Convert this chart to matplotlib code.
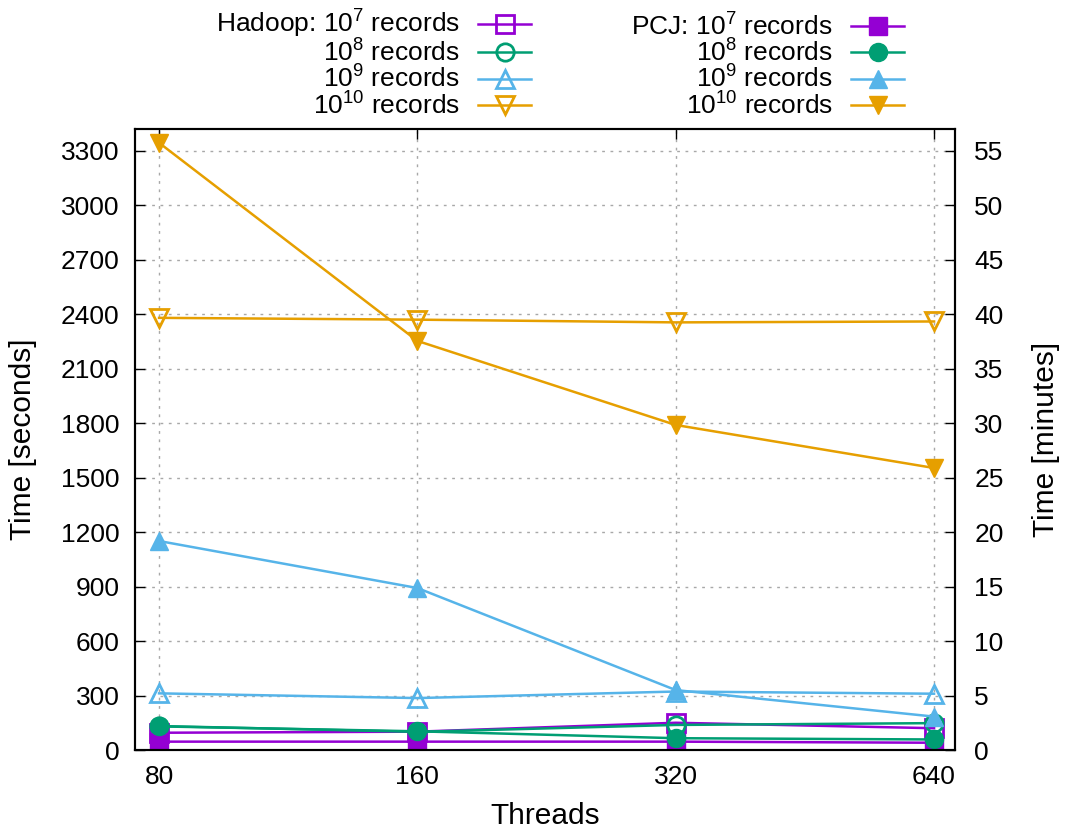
import matplotlib
matplotlib.use('Agg')
import matplotlib.pyplot as plt
from matplotlib.ticker import FixedLocator, NullLocator

plt.rcParams['font.family'] = ['Liberation Sans', 'DejaVu Sans']
plt.rcParams['mathtext.fontset'] = 'custom'
plt.rcParams['mathtext.rm'] = 'Liberation Sans'
plt.rcParams['mathtext.it'] = 'Liberation Sans:italic'
plt.rcParams['font.size'] = 19

threads = [80, 160, 320, 640]

hadoop_1e7 = [95, 101, 150, 120]
hadoop_1e8 = [132, 100, 138, 148]
hadoop_1e9 = [312, 286, 322, 310]
hadoop_1e10 = [2380, 2370, 2355, 2360]

pcj_1e7 = [46, 46, 46, 40]
pcj_1e8 = [130, 103, 65, 58]
pcj_1e9 = [1151, 892, 330, 184]
pcj_1e10 = [3344, 2253, 1790, 1553]

colors = ['#9400d3', '#009e73', '#56b4e9', '#e69f00']
markers = ['s', 'o', '^', 'v']
hadoop = [hadoop_1e7, hadoop_1e8, hadoop_1e9, hadoop_1e10]
pcj = [pcj_1e7, pcj_1e8, pcj_1e9, pcj_1e10]
hadoop_labels = [r'Hadoop: $10^{7}$ records', r'$10^{8}$ records',
                 r'$10^{9}$ records', r'$10^{10}$ records']
pcj_labels = [r'PCJ: $10^{7}$ records', r'$10^{8}$ records',
              r'$10^{9}$ records', r'$10^{10}$ records']

fig = plt.figure(figsize=(10.65, 8.32), dpi=100)
ax = fig.add_axes([135/1065, 82/832, 820/1065, 621/832])

h_lines, p_lines = [], []
for i in range(4):
    l, = ax.plot(threads, hadoop[i], color=colors[i], marker=markers[i], ms=12.5,
                 mfc='none', mec=colors[i], mew=2, lw=1.8, label=hadoop_labels[i])
    h_lines.append(l)
for i in range(4):
    l, = ax.plot(threads, pcj[i], color=colors[i], marker=markers[i], ms=13,
                 mfc=colors[i], mec=colors[i], lw=1.8, label=pcj_labels[i])
    p_lines.append(l)

ax.set_xscale('log', base=2)
ax.set_xlim(75, 677)
ax.xaxis.set_major_locator(FixedLocator(threads))
ax.xaxis.set_minor_locator(NullLocator())
ax.set_xticklabels([str(t) for t in threads])
ax.set_ylim(0, 3420)
ax.set_yticks(range(0, 3301, 300))
ax.tick_params(axis='x', direction='in', top=True, length=7, width=1, pad=11)
ax.tick_params(axis='y', direction='in', length=7, width=1, pad=11)
ax.grid(True, color='#a8a8a8', linestyle=(0, (2, 4)), lw=1)
for s in ax.spines.values():
    s.set_linewidth(1.5)
ax.set_xlabel('Threads', fontsize=21.5, labelpad=9)
ax.set_ylabel('Time [seconds]', fontsize=21.5, labelpad=17)

ax2 = ax.twinx()
ax2.set_ylim(0, 57)
ax2.set_yticks(range(0, 56, 5))
ax2.tick_params(axis='y', direction='in', length=7, width=1, pad=14)
ax2.set_ylabel('Time [minutes]', fontsize=21.5, labelpad=20)
for s in ax2.spines.values():
    s.set_linewidth(1.5)

leg_kw = dict(frameon=False, markerfirst=False, handlelength=2.0,
              handletextpad=0.7, labelspacing=-0.03, borderpad=0, borderaxespad=0)
fig.legend(handles=h_lines, loc='upper right', bbox_to_anchor=(531/1065, 1 - 8/832), **leg_kw)
fig.legend(handles=p_lines, loc='upper right', bbox_to_anchor=(904/1065, 1 - 13/832), **leg_kw)

fig.savefig('out.png', dpi=100)
